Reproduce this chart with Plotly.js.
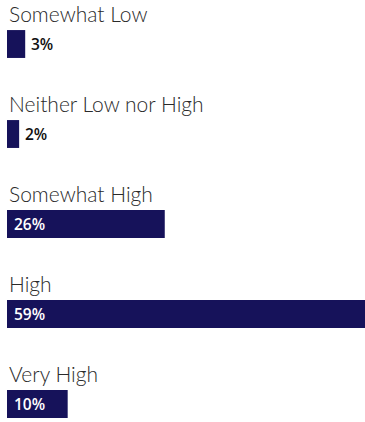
<!DOCTYPE html>
<html><head><meta charset="utf-8">
<script src="https://cdn.plot.ly/plotly-3.0.1.min.js"></script>
<style>html,body{margin:0;padding:0;background:#fff;}#chart{width:365px;height:422px;}</style>
</head><body><div id="chart"></div>
<script>
const categories = ["Somewhat Low", "Neither Low nor High", "Somewhat High", "High", "Very High"];
const values = [3, 2, 26, 59, 10];
const valueLabels = ["3%", "2%", "26%", "59%", "10%"];

const trace = {
  type: 'bar', orientation: 'h',
  x: values, y: categories,
  marker: {color: '#16125A'},
  width: 0.31,
  hoverinfo: 'none'
};
const catAnn = categories.map(c => ({
  xref: 'paper', yref: 'y', x: 0, y: c, yshift: 31,
  xanchor: 'left', yanchor: 'middle', showarrow: false,
  text: c, font: {size: 21, color: '#2a2a2a', family: 'Lato, sans-serif', weight: 300}
}));
const valAnn = values.map((v, i) => {
  const inside = v >= 8;
  return {
    xref: 'x', yref: 'y', x: inside ? 0 : v, y: categories[i],
    xshift: inside ? 5 : 4,
    xanchor: 'left', yanchor: 'middle', showarrow: false,
    text: valueLabels[i],
    font: {size: 15.5, color: inside ? '#ffffff' : '#111111', family: 'Open Sans, sans-serif', weight: 600}
  };
});
const layout = {
  width: 365, height: 422,
  margin: {l: 7, r: 0, t: 0, b: 0},
  paper_bgcolor: '#fff', plot_bgcolor: '#fff',
  showlegend: false,
  xaxis: {range: [0, 59], visible: false, fixedrange: true},
  yaxis: {type: 'category', range: [4.2, -0.489], visible: false, fixedrange: true},
  annotations: catAnn.concat(valAnn)
};
Plotly.newPlot('chart', [trace], layout, {displayModeBar: false, staticPlot: true});
</script></body></html>
